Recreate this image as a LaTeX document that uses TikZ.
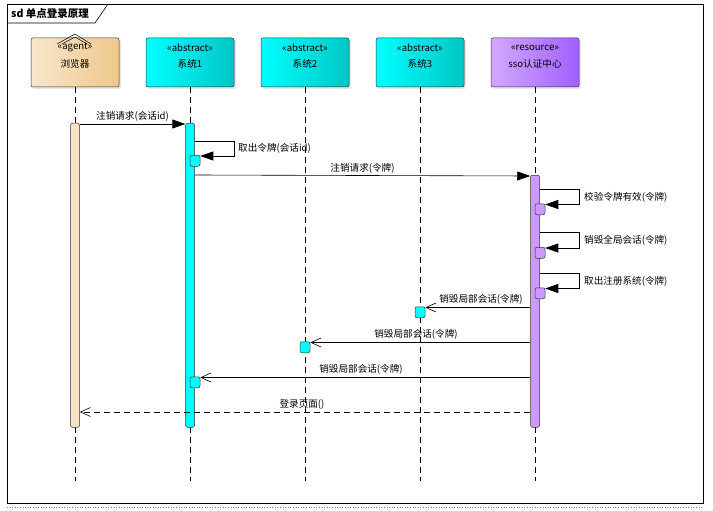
\documentclass[tikz,border=0pt]{standalone}
\usepackage{fontspec}
\setmainfont{Noto Sans CJK SC}
\usetikzlibrary{arrows.meta,shadows}
\definecolor{agentL}{HTML}{F9E6CC}
\definecolor{agentR}{HTML}{EFC78A}
\definecolor{agentBar}{HTML}{F8E2C6}
\definecolor{absL}{HTML}{00FFFF}
\definecolor{absR}{HTML}{00C6C6}
\definecolor{resL}{HTML}{D3A8FF}
\definecolor{resR}{HTML}{A15FFF}
\definecolor{resBar}{HTML}{CC99FF}
\tikzset{
	head/.style={draw=black!80, line width=0.5pt, rounded corners=2pt, minimum width=88, minimum height=49, drop shadow={shadow xshift=2pt, shadow yshift=-2pt, opacity=0.2}},
	lifeline/.style={line width=0.5pt, dash pattern=on 6pt off 4pt},
	bar/.style={draw=black!80, line width=0.5pt, rounded corners=2pt, minimum width=9, inner sep=0pt, anchor=north},
	actbox/.style={draw=black!80, line width=0.5pt, rounded corners=2pt, minimum width=10, minimum height=11, inner sep=0pt, anchor=north},
	call/.style={line width=0.6pt, -{Triangle[length=13pt,width=9pt]}},
	back/.style={line width=0.6pt, -{Straight Barb[length=10pt,width=9pt]}},
	msg/.style={font=\fontsize{9.6}{11}\selectfont, inner sep=1pt},
}
\begin{document}
\begin{tikzpicture}[x=1pt,y=-1pt]
			%%%%% FRAME %%%%%
			\useasboundingbox (0,0) rectangle (713,511);
			\draw[line width=0.8pt] (7,4) rectangle (703,503);
			\draw[line width=0.6pt] (7,23) -- (95,23) -- (108,4);
			\node[anchor=west, font=\fontsize{10.5}{12}\selectfont\bfseries, inner sep=0pt] (title) at (11,13.5) {sd 单点登录原理};
			\draw[black!50, dotted, line width=0.6pt] (7,507.5) -- (703,507.5);
			
			%%%%% HEADS %%%%%
			\node[head, left color=agentL, right color=agentR] (browser) at (75,62.5) {};
			\node[head, left color=absL, right color=absR] (sys1) at (190,62.5) {};
			\node[head, left color=absL, right color=absR] (sys2) at (305,62.5) {};
			\node[head, left color=absL, right color=absR] (sys3) at (420,62.5) {};
			\node[head, left color=resL, right color=resR] (sso) at (535,62.5) {};
			\foreach \n/\s/\t in {browser/agent/浏览器, sys1/abstract/系统1, sys2/abstract/系统2, sys3/abstract/系统3, sso/resource/sso认证中心}{
				\node[font=\fontsize{9.6}{11}\selectfont, inner sep=0pt] at ([yshift=15pt]\n.center) {«\s»};
				\node[font=\fontsize{9.6}{11}\selectfont, inner sep=0pt] at ([yshift=-1pt]\n.center) {\t};
			}
			% agent icon
			\draw[line width=0.5pt] (57,44) -- (75,34) -- (91,44);
			\draw[line width=0.5pt] (62,44) -- (75,37) -- (87,44);
			
			%%%%% LIFELINES %%%%%
			\foreach \n in {browser, sys1, sys2, sys3, sso}{
				\coordinate (\n-end) at (\n.south |- 0,481);
				\draw[lifeline] (\n.south) -- (\n-end);
			}
			
			%%%%% ACTIVATIONS %%%%%
			\node[bar, fill=agentBar, minimum height=304] (barB) at (75,123) {};
			\node[bar, fill=absL, minimum height=304] (bar1) at (190,123) {};
			\node[bar, fill=resBar, minimum height=252] (barS) at (535,175) {};
			
			\node[actbox, fill=absL] (a1) at (195,155) {};
			\node[actbox, fill=resBar] (s1) at (540,203.5) {};
			\node[actbox, fill=resBar] (s2) at (540,247) {};
			\node[actbox, fill=resBar] (s3) at (540,287.5) {};
			\node[actbox, fill=absL] (a3) at (420,306.5) {};
			\node[actbox, fill=absL] (a2) at (305,341.5) {};
			\node[actbox, fill=absL] (a4) at (195,376.5) {};
			
			%%%%% MESSAGES %%%%%
			\draw[call] ([yshift=-1pt]barB.north east) -- ([yshift=-1pt]bar1.north west) node[msg, midway, above=1pt] {注销请求(会话id)};
			
			\draw[call] ([yshift=-18pt]bar1.north east) -- ++(40,0) |- ([yshift=-1pt]a1.north east);
			\node[msg, anchor=west] (l2) at (237,148) {取出令牌(会话id)};
			
			\draw[call] ([yshift=-52pt]bar1.north east) -- ([yshift=-1pt]barS.north west) node[msg, midway, above=1pt] {注销请求(令牌)};
			
			\draw[call] ([yshift=-14pt]barS.north east) -- ++(40,0) |- ([yshift=-1pt]s1.north east);
			\node[msg, anchor=west] (l4) at (583,197) {校验令牌有效(令牌)};
			\draw[call] ([yshift=-57pt]barS.north east) -- ++(40,0) |- ([yshift=-1pt]s2.north east);
			\node[msg, anchor=west] (l5) at (583,240) {销毁全局会话(令牌)};
			\draw[call] ([yshift=-98pt]barS.north east) -- ++(40,0) |- ([yshift=-1pt]s3.north east);
			\node[msg, anchor=west] (l6) at (583,281) {取出注册系统(令牌)};
			
			\draw[back] (barS.west |- a3.north) ++(0,1) -- ([yshift=-1pt]a3.north east);
			\node[msg] (l7) at (481,299) {销毁局部会话(令牌)};
			\draw[back] (barS.west |- a2.north) ++(0,1) -- ([yshift=-1pt]a2.north east);
			\node[msg] (l8) at (416,334) {销毁局部会话(令牌)};
			\draw[back] (barS.west |- a4.north) ++(0,1) -- ([yshift=-1pt]a4.north east);
			\node[msg] (l9) at (361,369) {销毁局部会话(令牌)};
			
			\draw[back, dash pattern=on 6pt off 4pt] ([yshift=-237pt]barS.north west) -- ([yshift=-289pt]barB.north east);
			\node[msg] (l10) at (302,404) {登录页面()};
			
		\end{tikzpicture}
\end{document}
